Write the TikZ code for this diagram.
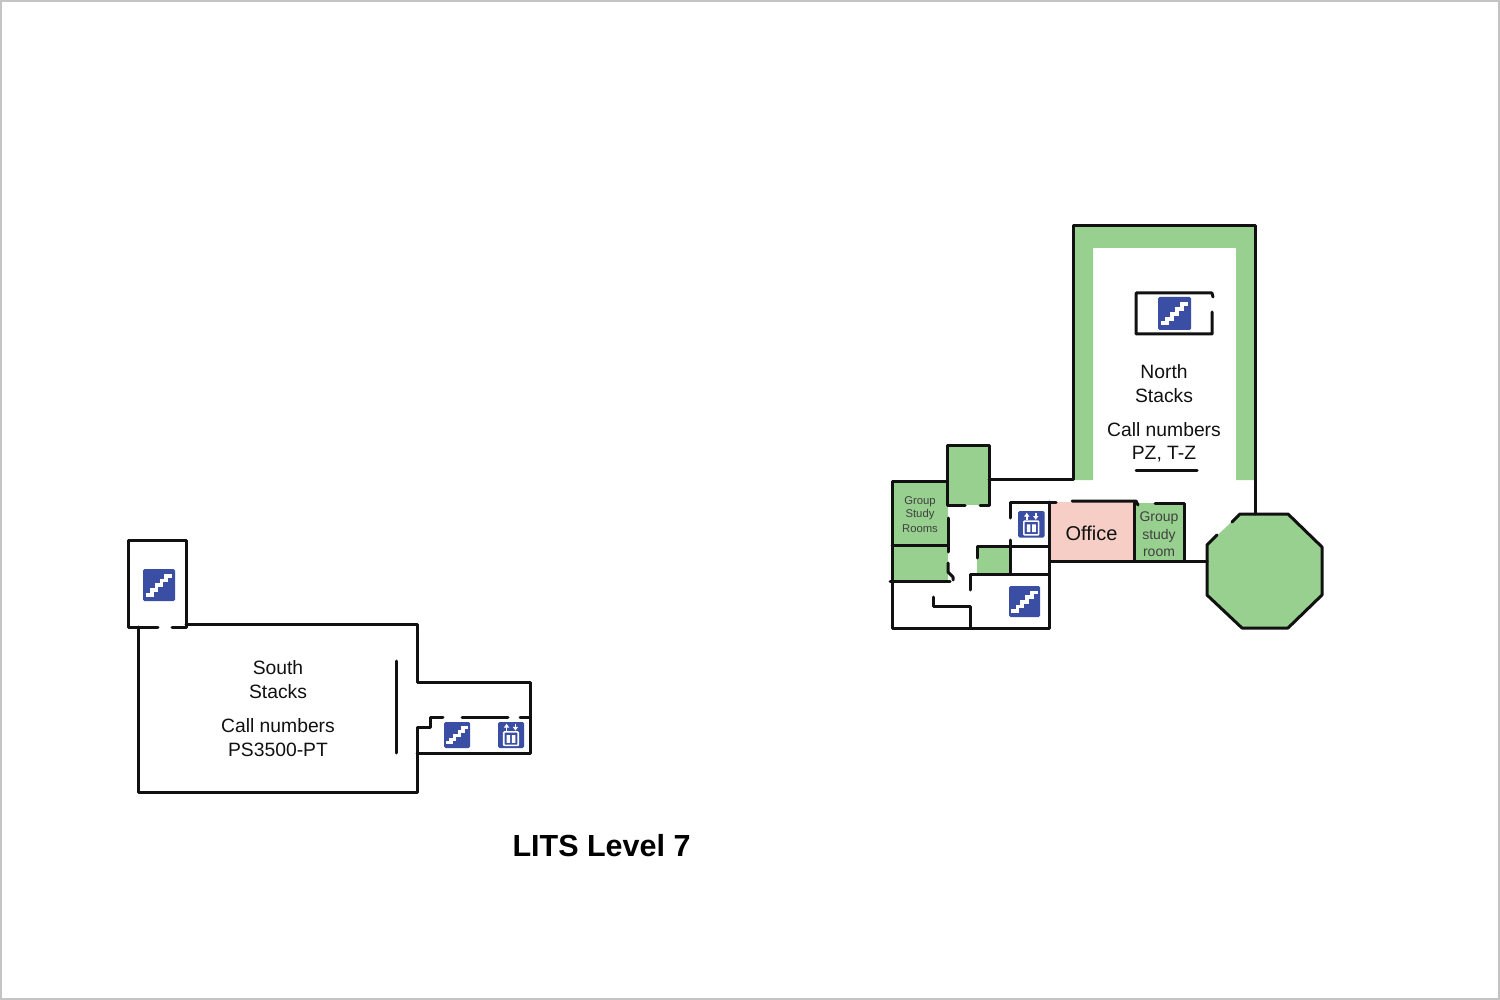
\documentclass[tikz,border=0pt]{standalone}
\usepackage{fontspec}
\setmainfont{Liberation Sans}
\usetikzlibrary{arrows.meta}
\definecolor{roomgreen}{HTML}{98D08F}
\definecolor{officepink}{HTML}{F6CEC5}
\definecolor{signblue}{HTML}{3A4EA3}
\definecolor{wallblack}{HTML}{111111}
\definecolor{framegray}{HTML}{C4C4C4}
\newcommand{\stairicon}[3]{%
  \begin{scope}[shift={(#1,#2)},x=#3pt,y=-#3pt]
    \fill[signblue,rounded corners=1.5pt] (0,0) rectangle (1,1);
    \draw[white,line width=#3*0.12pt,line join=miter]
      (.08,.80) -- (.27,.80) -- (.27,.66) -- (.42,.66) -- (.42,.51) -- (.58,.51)
      -- (.58,.36) -- (.73,.36) -- (.73,.21) -- (.92,.21);
  \end{scope}}
\newcommand{\lifticon}[3]{%
  \begin{scope}[shift={(#1,#2)},x=#3pt,y=-#3pt]
    \fill[signblue,rounded corners=1.5pt] (0,0) rectangle (1,1);
    \draw[white,line width=1.5pt,-{Latex[length=4pt,width=6pt]}] (.33,.34) -- (.33,.06);
    \draw[white,line width=1.5pt,-{Latex[length=4pt,width=6pt]}] (.67,.06) -- (.67,.34);
    \draw[white,line width=1.6pt,rounded corners=.8pt] (.22,.38) rectangle (.78,.90);
    \fill[white] (.33,.50) rectangle (.47,.80) (.53,.50) rectangle (.67,.80);
  \end{scope}}
\tikzset{
  wall/.style={draw=wallblack,line width=3pt,line cap=round,line join=round},
  label/.style={font=\fontsize{19.3}{22}\selectfont,text=wallblack,inner sep=0pt,anchor=center},
  smallabel/.style={font=\fontsize{14}{16}\selectfont,text=black!75,inner sep=0pt,anchor=center},
  tinylabel/.style={font=\fontsize{11.3}{13}\selectfont,text=black!75,inner sep=0pt,anchor=center},
}
\begin{document}
\begin{tikzpicture}[x=1pt,y=-1pt]
\useasboundingbox (0,0) rectangle (1500,1000);
\fill[white] (0,0) rectangle (1500,1000);
\draw[framegray,line width=2pt] (1,1) rectangle (1499,999);

% --- green and pink fills
\fill[roomgreen] (1073,226) -- (1255,226) -- (1255,480) -- (1236,480) -- (1236,248)
  -- (1093,248) -- (1093,480) -- (1073,480) -- cycle;
\fill[roomgreen] (948,445) rectangle (989,505);
\fill[roomgreen] (892,481) rectangle (948,581);
\fill[roomgreen] (977,546) rectangle (1010,574);
\fill[officepink] (1050,502) rectangle (1134,561);
\fill[roomgreen] (1134,503) rectangle (1184,561);
\fill[roomgreen] (1240,514) -- (1288,514) -- (1322,547) -- (1322,595) -- (1288,628)
  -- (1242,628) -- (1207,595) -- (1207,545) -- cycle;

% --- north stacks walls
\draw[wall] (989,479) -- (1073,479) -- (1073,226) -- (1255,226) -- (1255,514);
\draw[wall] (1213,297) -- (1212,293) -- (1136,293) -- (1136,334) -- (1212,334) -- (1212,312);
\draw[wall] (1136,470) -- (1197,470);

% --- octagon
\draw[wall] (1232,522) -- (1240,514) -- (1288,514) -- (1322,547) -- (1322,595)
  -- (1288,628) -- (1242,628) -- (1207,595) -- (1207,545) -- (1217,535);

% --- west complex
\draw[wall] (965,505) -- (947,505) -- (947,445) -- (989,445) -- (989,505) -- (980,505);
\draw[wall] (947,481) -- (892,481) -- (892,628) -- (1049,628) -- (1049,502);
\draw[wall] (892,545) -- (947,545);
\draw[wall] (890,581) -- (950,581);
\draw[wall] (948,518) -- (948,552);
\draw[wall] (948,563) -- (948,572) -- (953,577) -- (953,580);
\draw[wall] (970,590) -- (970,574) -- (1049,574);
\draw[wall] (933,597) -- (933,606) -- (970,606) -- (970,628);
\draw[wall] (977,558) -- (977,546) -- (1049,546);
\draw[wall] (1010,518) -- (1010,502) -- (1056,502);
\draw[wall] (1010,540) -- (1010,574);
\draw[wall] (1072,501) -- (1136,501) -- (1138,505);
\draw[wall] (1155,503) -- (1184,503) -- (1184,561);
\draw[wall] (1134,503) -- (1134,561);
\draw[wall] (1050,561) -- (1207,561);

% --- south stacks walls
\draw[wall] (158,627) -- (128.5,627) -- (128.5,540) -- (186,540) -- (186,627) -- (172,627);
\draw[wall] (186,624) -- (417,624) -- (417,682) -- (530,682) -- (530,753) -- (417,753);
\draw[wall] (138,627) -- (138,792) -- (417,792) -- (417,727) -- (430,727) -- (430,717) -- (443,717);
\draw[wall] (396,661) -- (396,753);
\draw[wall] (462,717) -- (508,717);
\draw[wall] (520,717) -- (530,717);

% --- icons
\stairicon{1158}{297}{33}
\stairicon{1009}{586}{31}
\lifticon{1018}{511}{26.5}
\stairicon{143}{569}{32}
\stairicon{444}{722}{26}
\lifticon{498}{722}{26}

% --- labels
\node[label] (northa) at (1164,372) {North};
\node[label] (northb) at (1164,396) {Stacks};
\node[label] (northc) at (1164,430) {Call numbers};
\node[label] (northd) at (1164,454) {PZ, T-Z};
\node[label] (southa) at (278,668) {South};
\node[label] (southb) at (278,692) {Stacks};
\node[label] (southc) at (278,725.5) {Call numbers};
\node[label] (southd) at (278,749.5) {PS3500-PT};
\node[label,font=\fontsize{20}{24}\selectfont] (office) at (1091.5,533) {Office};
\node[smallabel] (groupa) at (1159,518) {Group};
\node[smallabel] (groupb) at (1159,535.5) {study};
\node[smallabel] (groupc) at (1159,553) {room};
\node[tinylabel] (gsra) at (920,502) {Group};
\node[tinylabel] (gsrb) at (920,515) {Study};
\node[tinylabel] (gsrc) at (920,528.5) {Rooms};
\node[font=\bfseries\fontsize{30.5}{34}\selectfont,inner sep=0pt] (title) at (601.5,846) {LITS Level 7};
\end{tikzpicture}
\end{document}
